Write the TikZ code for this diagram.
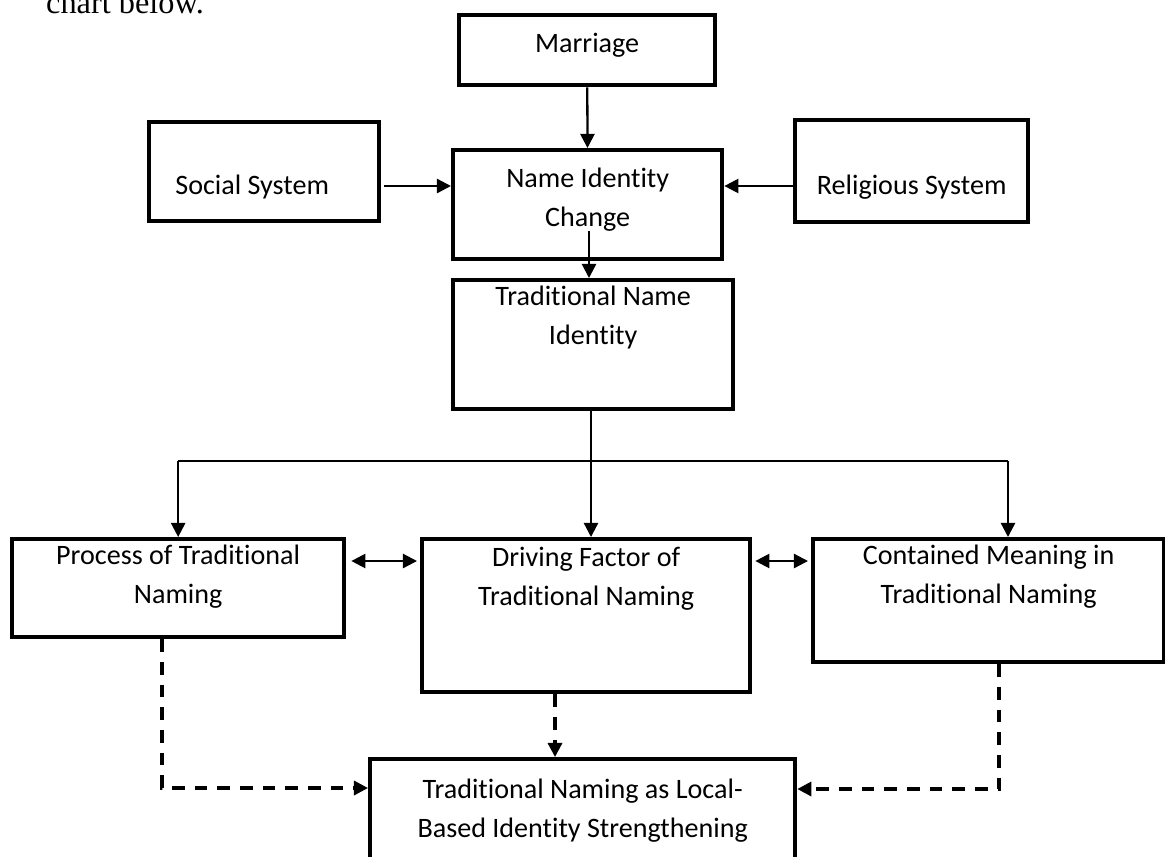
\documentclass[tikz,border=0pt]{standalone}
\usepackage{fontspec}
\setmainfont{Carlito}[Ligatures=NoCommon]
\newfontfamily\leadfont{Liberation Serif}
\usetikzlibrary{arrows.meta}

\begin{document}
\begin{tikzpicture}[
        x=0.02cm, y=-0.02cm,
        every node/.style={font=\fontsize{16}{22}\selectfont},
        box/.style={draw, line width=2.5pt, inner sep=0pt, align=center, anchor=north west},
        link/.style={-{Triangle[length=8pt,width=8pt]}, line width=1.3pt},
        twoway/.style={{Triangle[length=8pt,width=8pt]}-{Triangle[length=8pt,width=8pt]}, line width=1.3pt},
        dlink/.style={link, line width=1.8pt, dash pattern=on 7.2pt off 5.7pt}
        ]
        \useasboundingbox (0,0) rectangle (1165,856);
        \node[anchor=base west, font=\leadfont\fontsize{18.4}{22}\selectfont] (lead) at (40,13) {chart below.};

        % top part
        \node[box, minimum width=5.12cm, text height=0.74cm, text depth=0.66cm] (marriage) at (457,13) {Marriage};
        \node[box, minimum width=4.6cm, text height=1.44cm, text depth=0.54cm] (social) at (147,120) {Social System\hspace*{0.48cm}};
        \node[box, minimum width=5.38cm, text height=1.52cm, text depth=0.66cm] (nic) at (451,148) {Name Identity\\Change};
        \node[box, minimum width=4.66cm, text height=1.48cm, text depth=0.56cm] (religious) at (793,118) {Religious System};
        \node[box, minimum width=5.6cm, text height=1.28cm, text depth=1.3cm] (tni) at (451,278) {Traditional Name\\Identity};

        % middle row
        \node[box, minimum width=6.64cm, text height=1.28cm, text depth=0.68cm] (process) at (10,537) {Process of Traditional\\Naming};
        \node[box, minimum width=6.56cm, text height=1.32cm, text depth=1.74cm] (driving) at (420,537) {Driving Factor of\\Traditional Naming};
        \node[box, minimum width=7.02cm, text height=1.28cm, text depth=1.18cm] (contained) at (811,537) {Contained Meaning in\\Traditional Naming};

        % result
        \node[box, minimum width=8.5cm, text height=1.56cm, text depth=0.84cm] (result) at (368,757) {Traditional Naming as Local-\\Based Identity Strengthening};

        \coordinate (sideRow) at (0,186);
        \coordinate (split) at (591,461);
        \coordinate (splitR) at (1008,461);
        \coordinate (midRow) at (0,561);
        \coordinate (dashL) at (162,788);
        \coordinate (dashM) at (555,0);
        \coordinate (dashR) at (999,789);
        \coordinate (drop) at (589,231);

        \draw[link] (marriage) -- (nic);
        \draw[link] ([xshift=0.06cm]social.east |- sideRow) -- (nic.west |- sideRow);
        \draw[link] (religious.west |- sideRow) -- (nic.east |- sideRow);
        \draw[link] (drop) -- (drop |- tni.north);
        \draw[line width=1.3pt] (tni.south -| split) -- (split);
        \draw[line width=1.3pt] (process.north |- split) -- (splitR);
        \draw[link] (split) -- (split |- driving.north);
        \draw[link] (process.north |- split) -- (process.north);
        \draw[link] (splitR) -- (splitR |- contained.north);
        \draw[twoway] ([xshift=0.1cm]process.east |- midRow) -- ([xshift=-0.06cm]driving.west |- midRow);
        \draw[twoway] ([xshift=0.06cm]driving.east |- midRow) -- ([xshift=-0.06cm]contained.west |- midRow);

        % dashed
        \draw[dlink] (process.south -| dashL) |- (result.west |- dashL);
        \draw[dlink] (driving.south -| dashM) -- (result.north -| dashM);
        \draw[dlink] (contained.south -| dashR) |- (result.east |- dashR);
\end{tikzpicture}
\end{document}
